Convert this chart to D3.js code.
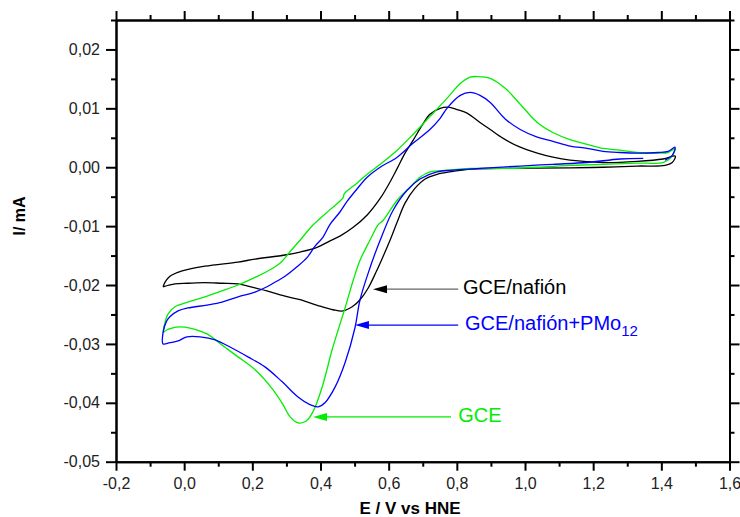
<!DOCTYPE html>
<html><head><meta charset="utf-8">
<script src="https://cdn.jsdelivr.net/npm/d3@7"></script>
<style>body{margin:0;background:#fff}svg{display:block}text{font-family:"Liberation Sans",Arial,sans-serif}</style>
</head><body><svg id="c" width="740" height="517"></svg>
<script>
const xTicks = [-0.2, 0, 0.2, 0.4, 0.6, 0.8, 1.0, 1.2, 1.4, 1.6];
const xMinor = [-0.1, 0.1, 0.3, 0.5, 0.7, 0.9, 1.1, 1.3, 1.5];
const yTicks = [-0.05, -0.04, -0.03, -0.02, -0.01, 0, 0.01, 0.02];
const yMinor = [-0.045, -0.035, -0.025, -0.015, -0.005, 0.005, 0.015, 0.025];

// GCE/nafión (black) [E, I]
const gceNafion = [
[-0.062,-0.0203],[-0.056,-0.0195],[-0.047,-0.0188],[-0.036,-0.0183],[-0.006,-0.0176],[0.061,-0.0168],
[0.158,-0.0161],[0.208,-0.0156],[0.296,-0.0149],[0.340,-0.0144],[0.390,-0.0136],[0.428,-0.0125],
[0.457,-0.0117],[0.496,-0.0102],[0.537,-0.0081],[0.575,-0.0053],[0.604,-0.0025],[0.625,-0.0002],
[0.648,0.0024],[0.672,0.0046],[0.698,0.0071],[0.721,0.0090],[0.751,0.0100],[0.774,0.0102],
[0.801,0.0098],[0.830,0.0092],[0.868,0.0076],[0.898,0.0064],[0.936,0.0049],[0.986,0.0034],
[1.036,0.0024],[1.082,0.0017],[1.132,0.0012],[1.229,0.0008],[1.329,0.0010],[1.405,0.0014],
[1.441,0.0019],[1.432,0.0008],[1.411,0.0003],[1.329,0.0002],[1.229,0.0000],[1.132,-0.0001],
[0.936,-0.0002],[0.839,-0.0003],[0.789,-0.0007],[0.742,-0.0012],[0.707,-0.0020],[0.677,-0.0036],
[0.648,-0.0061],[0.625,-0.0093],[0.604,-0.0124],[0.584,-0.0151],[0.563,-0.0178],[0.540,-0.0205],
[0.516,-0.0225],[0.493,-0.0237],[0.466,-0.0244],[0.437,-0.0242],[0.399,-0.0236],[0.340,-0.0225],
[0.296,-0.0219],[0.243,-0.0210],[0.208,-0.0205],[0.158,-0.0198],[0.111,-0.0197],[0.061,-0.0196],
[0.011,-0.0197],[-0.027,-0.0198],[-0.062,-0.0203]
];

// GCE/nafión+PMo12 (blue) [E, I]
const gceNafionPMo12 = [
[1.347,0.0015],[1.279,0.0014],[1.182,0.0008],[1.082,0.0005],[0.986,0.0002],[0.868,-0.0002],
[0.789,-0.0005],[0.742,-0.0008],[0.692,-0.0020],[0.654,-0.0039],[0.613,-0.0073],[0.575,-0.0124],
[0.545,-0.0171],[0.516,-0.0225],[0.501,-0.0273],[0.472,-0.0332],[0.443,-0.0373],[0.413,-0.0400],
[0.393,-0.0407],[0.369,-0.0403],[0.334,-0.0390],[0.287,-0.0364],[0.237,-0.0339],[0.187,-0.0322],
[0.140,-0.0307],[0.091,-0.0293],[0.047,-0.0288],[0.008,-0.0288],[-0.018,-0.0295],[-0.042,-0.0298],
[-0.062,-0.0300],[-0.062,-0.0281],[-0.053,-0.0263],[-0.042,-0.0254],[-0.018,-0.0244],[0.011,-0.0239],
[0.067,-0.0234],[0.111,-0.0229],[0.158,-0.0220],[0.208,-0.0212],[0.243,-0.0203],[0.261,-0.0197],
[0.296,-0.0185],[0.331,-0.0169],[0.361,-0.0153],[0.384,-0.0134],[0.407,-0.0119],[0.428,-0.0097],
[0.457,-0.0076],[0.478,-0.0058],[0.507,-0.0037],[0.537,-0.0017],[0.575,0.0000],[0.625,0.0017],
[0.672,0.0041],[0.721,0.0064],[0.751,0.0083],[0.771,0.0100],[0.810,0.0122],[0.839,0.0127],
[0.868,0.0122],[0.898,0.0110],[0.942,0.0082],[0.986,0.0064],[1.036,0.0051],[1.082,0.0044],
[1.132,0.0036],[1.182,0.0032],[1.229,0.0027],[1.279,0.0025],[1.329,0.0024],[1.391,0.0025],
[1.420,0.0027],[1.440,0.0034],[1.432,0.0020],[1.411,0.0012]
];

// GCE (green) [E, I]
const gce = [
[-0.062,-0.0281],[-0.056,-0.0263],[-0.047,-0.0249],[-0.027,-0.0237],[0.011,-0.0229],[0.061,-0.0220],
[0.111,-0.0210],[0.158,-0.0200],[0.208,-0.0187],[0.243,-0.0177],[0.281,-0.0163],[0.311,-0.0143],
[0.340,-0.0124],[0.378,-0.0098],[0.428,-0.0072],[0.466,-0.0052],[0.470,-0.0045],[0.507,-0.0027],
[0.537,-0.0012],[0.575,0.0005],[0.625,0.0029],[0.672,0.0056],[0.721,0.0086],[0.771,0.0117],
[0.810,0.0142],[0.839,0.0153],[0.859,0.0154],[0.898,0.0151],[0.942,0.0134],[0.986,0.0107],
[1.036,0.0076],[1.082,0.0059],[1.132,0.0047],[1.182,0.0039],[1.229,0.0032],[1.279,0.0029],
[1.329,0.0025],[1.391,0.0024],[1.420,0.0025],[1.441,0.0032],[1.426,0.0015],[1.405,0.0008],
[1.329,0.0007],[1.229,0.0005],[1.132,0.0003],[1.036,0.0000],[0.936,-0.0002],[0.839,-0.0002],
[0.771,-0.0005],[0.721,-0.0008],[0.692,-0.0017],[0.663,-0.0034],[0.625,-0.0056],[0.584,-0.0090],
[0.569,-0.0098],[0.545,-0.0124],[0.516,-0.0158],[0.496,-0.0192],[0.472,-0.0239],[0.452,-0.0276],
[0.434,-0.0310],[0.405,-0.0373],[0.378,-0.0415],[0.358,-0.0431],[0.334,-0.0434],[0.311,-0.0424],
[0.290,-0.0403],[0.258,-0.0376],[0.208,-0.0344],[0.158,-0.0322],[0.111,-0.0302],[0.067,-0.0283],
[0.017,-0.0273],[-0.012,-0.0271],[-0.036,-0.0273],[-0.050,-0.0276],[-0.062,-0.0281]
];

const seriesNames = ["GCE/nafión", "GCE/nafión+PMo12", "GCE"];
const seriesColors = ["#000000", "#0000ff", "#00ee00"];

(function () {
const svg = d3.select("#c");
const mL = 116, mR = 729.5, mT = 20, mB = 461.7;
const x = d3.scaleLinear().domain([-0.2, 1.6]).range([mL, mR]);
const y = d3.scaleLinear().domain([-0.05, 0.025]).range([mB, mT]);

const fmt = (p) => (d) => d3.format("." + p + "f")(d).replace("−", "-").replace(".", ",");

function styleAxis(g) {
  g.select(".domain").attr("stroke", "#000").attr("stroke-width", 2);
  g.selectAll(".tick line").attr("stroke", "#000").attr("stroke-width", 2);
  g.selectAll("text").attr("fill", "#222").style("font-size", "16px").style("font-family", '"Liberation Sans",Arial,sans-serif');
}
svg.append("g").attr("transform", `translate(0,${mB})`)
  .call(d3.axisBottom(x).tickValues(xTicks).tickFormat(fmt(1)).tickSize(9).tickSizeOuter(0).tickPadding(7))
  .call(styleAxis);
svg.append("g").attr("transform", `translate(0,${mB})`)
  .call(d3.axisBottom(x).tickValues(xMinor).tickFormat("").tickSize(5).tickSizeOuter(0)).call(styleAxis);
svg.append("g").attr("transform", `translate(0,${mT})`)
  .call(d3.axisTop(x).tickValues(xTicks).tickFormat("").tickSize(9).tickSizeOuter(0)).call(styleAxis);
svg.append("g").attr("transform", `translate(0,${mT})`)
  .call(d3.axisTop(x).tickValues(xMinor).tickFormat("").tickSize(5).tickSizeOuter(0)).call(styleAxis);
svg.append("g").attr("transform", `translate(${mL},0)`)
  .call(d3.axisLeft(y).tickValues(yTicks).tickFormat(fmt(2)).tickSize(10).tickSizeOuter(0).tickPadding(6))
  .call(styleAxis);
svg.append("g").attr("transform", `translate(${mL},0)`)
  .call(d3.axisLeft(y).tickValues(yMinor).tickFormat("").tickSize(5).tickSizeOuter(0)).call(styleAxis);
svg.append("g").attr("transform", `translate(${mR},0)`)
  .call(d3.axisRight(y).tickValues(yTicks).tickFormat("").tickSize(10).tickSizeOuter(0)).call(styleAxis);
svg.append("g").attr("transform", `translate(${mR},0)`)
  .call(d3.axisRight(y).tickValues(yMinor).tickFormat("").tickSize(5).tickSizeOuter(0)).call(styleAxis);

const line = d3.line().x(d => x(d[0])).y(d => y(d[1])).curve(d3.curveCatmullRom.alpha(0.5));
const data = [gceNafion, gce, gceNafionPMo12];
const cols = [seriesColors[0], seriesColors[2], seriesColors[1]];
data.forEach((s, i) => {
  svg.append("path").datum(s).attr("d", line).attr("fill", "none")
    .attr("stroke", cols[i]).attr("stroke-width", 1.3).attr("stroke-linejoin", "round");
});

const annotations = [
  {tip: [0.554, -0.0207], end: 0.804, tx: 0.818, ty: -0.0215, color: "#000", lineColor: "#666", label: "GCE/nafión", sub: null},
  {tip: [0.501, -0.0268], end: 0.804, tx: 0.824, ty: -0.0277, color: "#0000ff", lineColor: "#0000ff", label: "GCE/nafión+PMo", sub: "12"},
  {tip: [0.378, -0.0424], end: 0.783, tx: 0.804, ty: -0.0433, color: "#00ee00", lineColor: "#00ee00", label: "GCE", sub: null}
];
annotations.forEach(a => {
  const tx = x(a.tip[0]), ty = y(a.tip[1]);
  svg.append("line").attr("x1", tx + 8).attr("x2", x(a.end)).attr("y1", ty).attr("y2", ty)
    .attr("stroke", a.lineColor).attr("stroke-width", 1.3);
  svg.append("path").attr("d", `M${tx},${ty}L${tx + 14},${ty - 4}L${tx + 14},${ty + 4}Z`).attr("fill", a.color);
  const t = svg.append("text").attr("x", x(a.tx)).attr("y", y(a.ty)).attr("fill", a.color)
    .style("font-size", "20px").text(a.label);
  if (a.sub) t.append("tspan").attr("dy", 6).style("font-size", "15px").text(a.sub);
});

svg.append("text").attr("transform", `translate(25,216) rotate(-90)`).attr("text-anchor", "middle")
  .style("font-size", "16px").style("font-weight", "bold").text("I/ mA");
svg.append("text").attr("x", 410).attr("y", 514).attr("text-anchor", "middle")
  .style("font-size", "17px").style("font-weight", "bold").text("E / V vs HNE");
})();
</script></body></html>
